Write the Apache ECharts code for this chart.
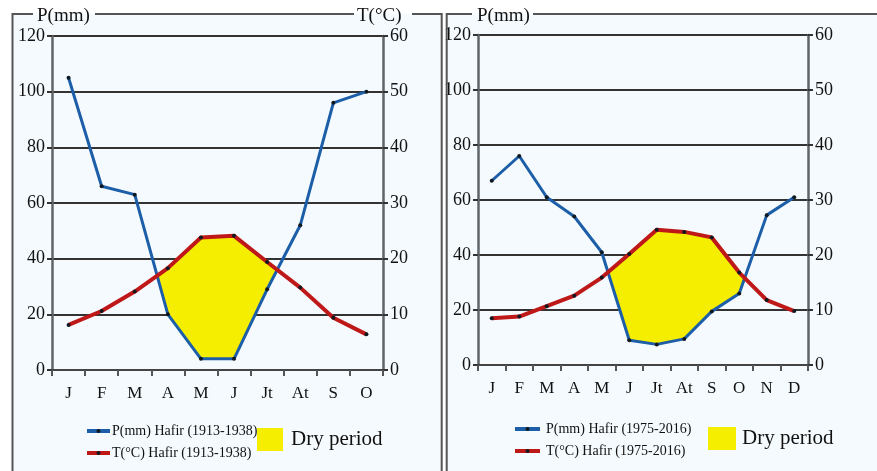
<!DOCTYPE html>
<html><head><meta charset="utf-8">
<script src="https://cdn.jsdelivr.net/npm/echarts@6/dist/echarts.min.js"></script>
<style>html,body{margin:0;padding:0;background:#fff}#c{width:877px;height:471px}</style>
</head><body><div id="c"></div>
<script>
var monthsA = ['J','F','M','A','M','J','Jt','At','S','O'];
var precipA = [105, 66, 63, 20, 4, 4, 29, 52, 96, 100];
var tempA = [8.1, 10.6, 14.1, 18.3, 23.8, 24.1, 19.4, 14.8, 9.4, 6.4];
var monthsB = ['J','F','M','A','M','J','Jt','At','S','O','N','D'];
var precipB = [67, 76, 61, 54, 41, 9, 7.5, 9.5, 19.5, 26, 54.5, 61];
var tempB = [8.5, 8.8, 10.7, 12.6, 15.9, 20.2, 24.6, 24.2, 23.2, 16.8, 11.8, 9.8];
var pTicks = [0, 20, 40, 60, 80, 100, 120];
var tTicks = [0, 10, 20, 30, 40, 50, 60];
var nameP_A = 'P(mm) Hafir (1913-1938)', nameT_A = 'T(°C) Hafir (1913-1938)';
var nameP_B = 'P(mm) Hafir (1975-2016)', nameT_B = 'T(°C) Hafir (1975-2016)';

var FONT = 'Liberation Serif, Times New Roman, serif';
var YEL = '#f6ee00';

function dryRender(P, T) {
  return function (params, api) {
    var n = P.length, children = [];
    var pp = [], pt = [], d = [];
    for (var i = 0; i < n; i++) {
      pp.push(api.coord([i, P[i]]));
      pt.push(api.coord([i, 2 * T[i]]));
      d.push(2 * T[i] - P[i]);
    }
    var up = null, lo = null;
    function lerp(a, b, t) { return [a[0] + (b[0] - a[0]) * t, a[1] + (b[1] - a[1]) * t]; }
    for (var i = 0; i < n; i++) {
      if (d[i] > 0) {
        if (!up) { up = []; lo = []; }
        up.push(pt[i]); lo.push(pp[i]);
      }
      if (i < n - 1 && (d[i] > 0) !== (d[i + 1] > 0)) {
        var t = d[i] / (d[i] - d[i + 1]);
        var c = lerp(pp[i], pp[i + 1], t);
        if (!up) { up = [c]; lo = []; }
        else {
          up.push(c);
          children.push({ type: 'polygon', shape: { points: up.concat(lo.reverse()) }, style: { fill: YEL } });
          up = null; lo = null;
        }
      }
    }
    if (up) children.push({ type: 'polygon', shape: { points: up.concat(lo.reverse()) }, style: { fill: YEL } });
    return { type: 'group', children: children };
  };
}

function xAxisFor(cats, gi) {
  return {
    type: 'category', gridIndex: gi, data: cats, boundaryGap: true,
    axisLine: { lineStyle: { color: '#444', width: 2 } },
    axisTick: { show: true, length: 6, inside: false, lineStyle: { color: '#555', width: 2 } },
    axisLabel: { fontFamily: FONT, fontSize: 17, color: '#111', margin: 15 },
    splitLine: { show: false }
  };
}
function yAxisFor(gi, max, interval, pos, split) {
  return {
    type: 'value', gridIndex: gi, min: 0, max: max, interval: interval, position: pos,
    axisLine: { show: true, lineStyle: { color: '#5f6468', width: 2.5 } },
    axisTick: { show: true, length: 5, lineStyle: { color: '#333', width: 2 } },
    axisLabel: { fontFamily: FONT, fontSize: 18, color: '#111', margin: 7 },
    splitLine: { show: split, lineStyle: { color: '#333', width: 2 } }
  };
}
function lineSeries(name, data, xi, yi, color, w) {
  return {
    type: 'line', name: name, data: data, xAxisIndex: xi, yAxisIndex: yi,
    symbol: 'circle', symbolSize: 4, showSymbol: true, z: 4,
    lineStyle: { color: color, width: w },
    itemStyle: { color: '#101820' },
    emphasis: { disabled: true }, animation: false
  };
}

var chart = echarts.init(document.getElementById('c'), null, { renderer: 'canvas' });
var legText = { fontFamily: FONT, fontSize: 14, color: '#111', padding: [0, 0, 0, -3] };
chart.setOption({
  animation: false,
  backgroundColor: '#ffffff',
  grid: [
    { left: 52, top: 36, width: 331, height: 334 },
    { left: 478, top: 35, width: 330, height: 330 }
  ],
  xAxis: [xAxisFor(monthsA, 0), xAxisFor(monthsB, 1)],
  yAxis: [
    yAxisFor(0, pTicks[pTicks.length - 1], pTicks[1] - pTicks[0], 'left', true),
    yAxisFor(0, tTicks[tTicks.length - 1], tTicks[1] - tTicks[0], 'right', false),
    yAxisFor(1, pTicks[pTicks.length - 1], pTicks[1] - pTicks[0], 'left', true),
    yAxisFor(1, tTicks[tTicks.length - 1], tTicks[1] - tTicks[0], 'right', false)
  ],
  legend: [
    { orient: 'vertical', left: 85, top: 424, padding: 0, itemWidth: 23, itemHeight: 5, itemGap: 8, textStyle: legText,
      lineStyle: { width: 4 }, data: [nameP_A, nameT_A], selectedMode: false },
    { orient: 'vertical', left: 513, top: 422, padding: 0, itemWidth: 25, itemHeight: 5, itemGap: 8,
      textStyle: { fontFamily: FONT, fontSize: 14, color: '#111', padding: [0, 0, 0, 1] },
      lineStyle: { width: 4 }, data: [nameP_B, nameT_B], selectedMode: false },
    { left: 257, top: 428, padding: 0, itemWidth: 26, itemHeight: 23, itemGap: 8, selectedMode: false,
      textStyle: { fontFamily: FONT, fontSize: 21, color: '#111', padding: [0, 0, 0, 3] },
      data: [{ name: 'Dry period', icon: 'rect', itemStyle: { color: YEL } }] },
    { left: 708, top: 427, padding: 0, itemWidth: 28, itemHeight: 23, itemGap: 8, selectedMode: false,
      textStyle: { fontFamily: FONT, fontSize: 21, color: '#111', padding: [0, 0, 0, 1] },
      data: [{ name: 'Dry period', icon: 'rect', itemStyle: { color: YEL } }] }
  ],
  graphic: [
    { type: 'rect', z: -10, silent: true, shape: { x: 12.5, y: 14, width: 429.2, height: 460 }, style: { fill: '#f4fafd' } },
    { type: 'rect', z: -10, silent: true, shape: { x: 446.7, y: 14, width: 440, height: 460 }, style: { fill: '#f4fafd' } },
    { type: 'polyline', z: 10, silent: true, shape: { points: [[12.5, 475], [12.5, 14], [33, 14]] }, style: { stroke: '#555', lineWidth: 2, fill: null } },
    { type: 'polyline', z: 10, silent: true, shape: { points: [[95, 14], [354, 14]] }, style: { stroke: '#555', lineWidth: 2, fill: null } },
    { type: 'polyline', z: 10, silent: true, shape: { points: [[412, 14], [441.7, 14], [441.7, 475]] }, style: { stroke: '#555', lineWidth: 2, fill: null } },
    { type: 'polyline', z: 10, silent: true, shape: { points: [[446.7, 475], [446.7, 14], [472, 14]] }, style: { stroke: '#555', lineWidth: 2, fill: null } },
    { type: 'polyline', z: 10, silent: true, shape: { points: [[533, 14], [880, 14]] }, style: { stroke: '#555', lineWidth: 2, fill: null } },
    { type: 'text', z: 10, silent: true, left: 37, top: 7, style: { text: 'P(mm)', font: '19px ' + FONT, fill: '#111' } },
    { type: 'text', z: 10, silent: true, left: 357, top: 7, style: { text: 'T(°C)', font: '19px ' + FONT, fill: '#111' } },
    { type: 'text', z: 10, silent: true, left: 477, top: 7, style: { text: 'P(mm)', font: '19px ' + FONT, fill: '#111' } }
  ],
  series: [
    { type: 'custom', name: 'Dry period', xAxisIndex: 0, yAxisIndex: 0, data: [[0, 0]], z: 1,
      itemStyle: { color: YEL }, renderItem: dryRender(precipA, tempA), silent: true },
    { type: 'custom', name: 'Dry period', xAxisIndex: 1, yAxisIndex: 2, data: [[0, 0]], z: 1,
      itemStyle: { color: YEL }, renderItem: dryRender(precipB, tempB), silent: true },
    lineSeries(nameP_A, precipA, 0, 0, '#1c5ea8', 3),
    lineSeries(nameT_A, tempA, 0, 1, '#bf1818', 4),
    lineSeries(nameP_B, precipB, 1, 2, '#1c5ea8', 3),
    lineSeries(nameT_B, tempB, 1, 3, '#bf1818', 4)
  ]
});
</script></body></html>
